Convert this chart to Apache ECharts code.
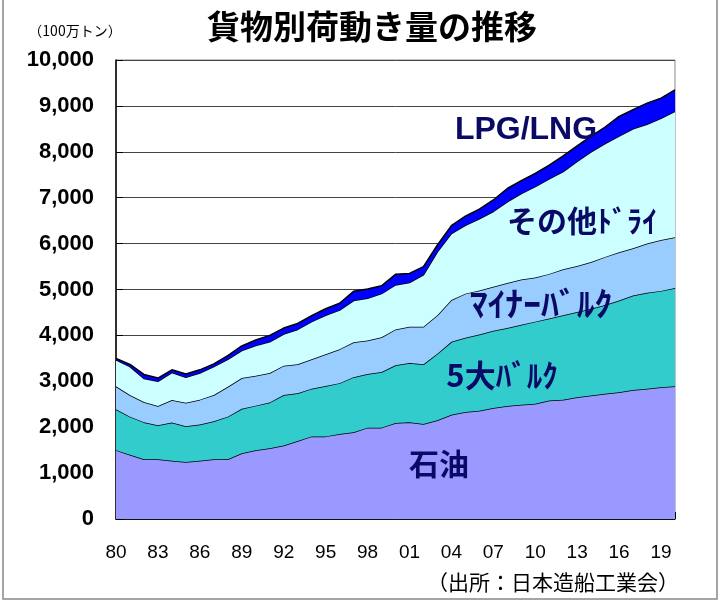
<!DOCTYPE html>
<html>
<head>
<meta charset="utf-8">
<script src="https://cdn.jsdelivr.net/npm/echarts@6/dist/echarts.min.js"></script>
<style>html,body{margin:0;padding:0;background:#fff;}#c{width:720px;height:602px;}</style>
</head>
<body>
<div id="c"></div>
<script>
var years = ['80','81','82','83','84','85','86','87','88','89','90','91','92','93','94','95','96','97','98','99','00','01','02','03','04','05','06','07','08','09','10','11','12','13','14','15','16','17','18','19','20'];
var oil = [1500,1400,1300,1300,1270,1240,1270,1300,1300,1430,1500,1540,1600,1700,1800,1800,1850,1890,1990,1990,2090,2110,2070,2150,2270,2330,2360,2420,2460,2490,2510,2580,2600,2650,2690,2730,2760,2810,2840,2870,2890];
var majorBulk = [890,830,810,740,830,780,790,830,930,970,970,1000,1100,1040,1040,1100,1110,1200,1170,1210,1260,1290,1300,1450,1590,1620,1660,1680,1700,1740,1790,1790,1840,1860,1890,1930,2000,2060,2090,2100,2140];
var minorBulk = [500,470,440,420,490,510,540,570,650,670,650,640,640,630,640,690,740,760,730,760,780,790,820,840,910,960,960,960,980,990,960,970,1000,1000,1020,1050,1050,1030,1070,1110,1110];
var otherDry = [580,620,510,540,600,560,580,620,600,600,660,680,690,760,820,850,850,910,920,950,970,960,1130,1380,1450,1490,1560,1640,1770,1870,1980,2070,2130,2280,2400,2470,2530,2600,2600,2650,2740];
var lpgLng = [30,50,90,70,60,70,70,60,80,100,120,140,130,130,130,140,150,200,200,170,230,200,180,150,170,200,210,250,290,280,290,300,340,340,340,360,430,420,460,440,470];
var seriesNames = ['石油','5大ﾊﾞﾙｸ','ﾏｲﾅｰﾊﾞﾙｸ','その他ﾄﾞﾗｲ','LPG/LNG'];
var seriesColors = ['#9999FF','#33CCCC','#99CCFF','#CCFFFF','#0000FF'];
var seriesData = [oil, majorBulk, minorBulk, otherDry, lpgLng];

var chart = echarts.init(document.getElementById('c'), null, {renderer:'canvas'});
var jp = '"Noto Sans CJK JP", sans-serif';
var lat = '"Liberation Sans", Arial, sans-serif';
var labelStyle = function(txt, x, y, size, fam, sx){
  return {type:'text', x:x, y:y, scaleX:sx||1, z:100, style:{text:txt, fill:'#0a0a66', font:'bold '+size+'px '+fam, textAlign:'center', textVerticalAlign:'middle', shadowColor:'rgba(110,110,130,0.7)', shadowOffsetX:2, shadowOffsetY:2, shadowBlur:1}};
};
var option = {
  animation:false,
  backgroundColor:'#fff',
  grid:{left:116, right:45, top:60, bottom:83, show:true, borderColor:'#888', borderWidth:1, containLabel:false},
  xAxis:{type:'category', data:years, boundaryGap:false,
    axisLine:{lineStyle:{color:'#000', width:1.5}},
    axisTick:{inside:true, length:7, interval:0, lineStyle:{color:'#000'}},
    axisLabel:{interval:2, margin:24, fontSize:19, color:'#000', fontFamily:lat},
    splitLine:{show:false}},
  yAxis:{type:'value', min:0, max:10000, interval:1000,
    axisLine:{show:true, lineStyle:{color:'#000', width:1.5}},
    axisTick:{show:true, inside:true, length:7, lineStyle:{color:'#000'}},
    axisLabel:{margin:22, fontSize:22, fontWeight:'bold', color:'#000', fontFamily:lat,
      formatter:function(v){return v.toLocaleString('en-US');}},
    splitLine:{show:true, lineStyle:{color:'#444', width:1}}},
  series: seriesData.map(function(d,i){
    return {name:seriesNames[i], type:'line', stack:'total', data:d, symbol:'none', smooth:false,
      lineStyle:{color:'#000', width:1.5}, areaStyle:{color:seriesColors[i], opacity:1}, z:2+i};
  }),
  graphic:[
    {type:'rect', shape:{x:3, y:-2, width:714, height:601}, style:{fill:'none', stroke:'#888', lineWidth:1.5}, z:0},
    {type:'text', x:372, y:26, style:{text:'貨物別荷動き量の推移', fill:'#000', font:'bold 33px '+jp, textAlign:'center', textVerticalAlign:'middle'}},
    {type:'text', x:75, y:31, style:{text:'（100万トン）', fill:'#000', font:'14px '+jp, textAlign:'center', textVerticalAlign:'middle'}},
    {type:'text', x:553, y:582, style:{text:'（出所：日本造船工業会）', fill:'#000', font:'21px '+jp, textAlign:'center', textVerticalAlign:'middle'}},
    labelStyle('LPG/LNG', 526, 130, 32, lat),
    labelStyle('その他ﾄﾞﾗｲ', 582, 221, 30, jp),
    labelStyle('ﾏｲﾅｰﾊﾞﾙｸ', 541, 303, 33, jp, 1.08),
    labelStyle('5大ﾊﾞﾙｸ', 502, 375, 31, jp),
    labelStyle('石油', 439, 464, 30, jp)
  ]
};
chart.setOption(option);
</script>
</body>
</html>
